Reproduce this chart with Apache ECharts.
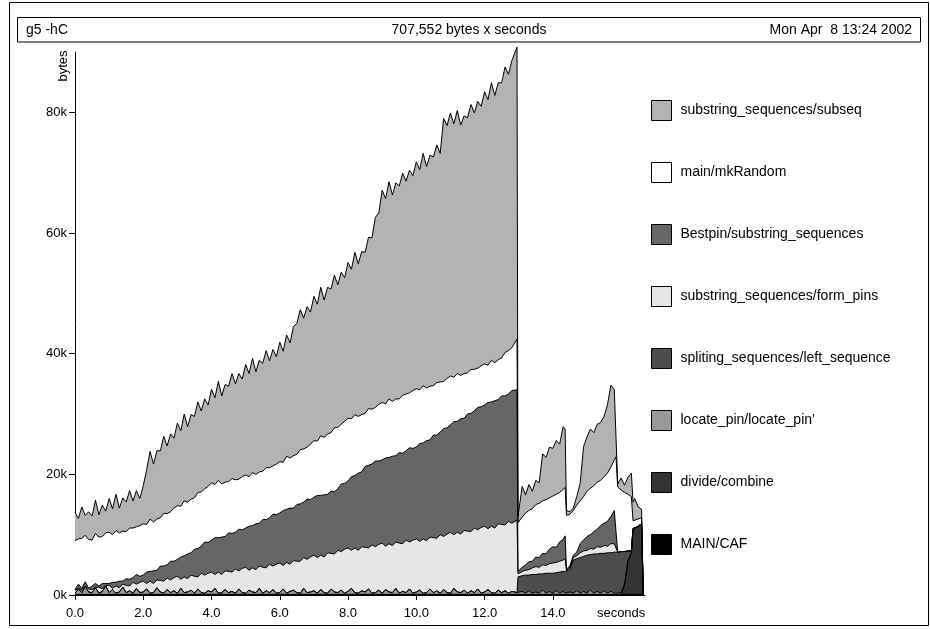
<!DOCTYPE html>
<html>
<head>
<meta charset="utf-8">
<script src="https://cdn.jsdelivr.net/npm/echarts@6/dist/echarts.min.js"></script>
<style>
html,body{margin:0;padding:0;background:#fff;}
#c{width:930px;height:629px;}
</style>
</head>
<body>
<div id="c"></div>
<script>
// sample times (seconds)
const times = [
  0.0,0.1,0.2,0.3,0.4,0.5,0.6,0.7,0.8,0.9,
  1.0,1.1,1.2,1.3,1.4,1.5,1.6,1.7,1.8,1.9,
  2.0,2.1,2.2,2.3,2.4,2.5,2.6,2.7,2.8,2.9,
  3.0,3.1,3.2,3.3,3.4,3.5,3.6,3.7,3.8,3.9,
  4.0,4.1,4.2,4.3,4.4,4.5,4.6,4.7,4.8,4.9,
  5.0,5.1,5.2,5.3,5.4,5.5,5.6,5.7,5.8,5.9,
  6.0,6.1,6.2,6.3,6.4,6.5,6.6,6.7,6.8,6.9,
  7.0,7.1,7.2,7.3,7.4,7.5,7.6,7.7,7.8,7.9,
  8.0,8.1,8.2,8.3,8.4,8.5,8.6,8.7,8.8,8.9,
  9.0,9.1,9.2,9.3,9.4,9.5,9.6,9.7,9.8,9.9,
  10.0,10.1,10.2,10.3,10.4,10.5,10.6,10.7,10.8,10.9,
  11.0,11.1,11.2,11.3,11.4,11.5,11.6,11.7,11.8,11.9,
  12.0,12.1,12.2,12.3,12.4,12.5,12.6,12.7,12.8,12.95,
  12.98,13.1,13.2,13.3,13.4,13.5,13.6,13.7,13.8,13.9,
  14.0,14.1,14.2,14.3,14.36,14.4,14.5,14.6,14.7,14.8,
  14.9,15.0,15.1,15.2,15.3,15.4,15.5,15.6,15.7,15.8,
  15.85,15.9,16.0,16.1,16.2,16.3,16.35,16.4,16.5,16.6,
  16.65
];

// band sizes in kbytes, bottom of the stack first
const mainCaf = [
  0.1,0.1,0.1,0.1,0.1,0.1,0.1,0.1,0.1,0.1,
  0.1,0.1,0.1,0.1,0.1,0.1,0.1,0.1,0.1,0.1,
  0.1,0.1,0.1,0.1,0.1,0.1,0.1,0.1,0.1,0.1,
  0.1,0.1,0.1,0.1,0.1,0.1,0.1,0.1,0.1,0.1,
  0.1,0.1,0.1,0.1,0.1,0.1,0.1,0.1,0.1,0.1,
  0.1,0.1,0.1,0.1,0.1,0.1,0.1,0.1,0.1,0.1,
  0.1,0.1,0.1,0.1,0.1,0.1,0.1,0.1,0.1,0.1,
  0.1,0.1,0.1,0.1,0.1,0.1,0.1,0.1,0.1,0.1,
  0.1,0.1,0.1,0.1,0.1,0.1,0.1,0.1,0.1,0.1,
  0.1,0.1,0.1,0.1,0.1,0.1,0.1,0.1,0.1,0.1,
  0.1,0.1,0.1,0.1,0.1,0.1,0.1,0.1,0.1,0.1,
  0.1,0.1,0.1,0.1,0.1,0.1,0.1,0.1,0.1,0.1,
  0.1,0.1,0.1,0.1,0.1,0.1,0.1,0.1,0.1,0.1,
  0.1,0.1,0.1,0.1,0.1,0.1,0.1,0.1,0.1,0.1,
  0.1,0.1,0.1,0.1,0.1,0.1,0.1,0.1,0.1,0.1,
  0.1,0.1,0.1,0.1,0.1,0.1,0.1,0.1,0.1,0.1,
  0.1,0.1,0.1,0.1,0.1,0.1,0.1,0.1,0.1,0.1,
  0
];
const divideCombine = [
  0,0,0,0,0,0,0,0,0,0,
  0,0,0,0,0,0,0,0,0,0,
  0,0,0,0,0,0,0,0,0,0,
  0,0,0,0,0,0,0,0,0,0,
  0,0,0,0,0,0,0,0,0,0,
  0,0,0,0,0,0,0,0,0,0,
  0,0,0,0,0,0,0,0,0,0,
  0,0,0,0,0,0,0,0,0,0,
  0,0,0,0,0,0,0,0,0,0,
  0,0,0,0,0,0,0,0,0,0,
  0,0,0,0,0,0,0,0,0,0,
  0,0,0,0,0,0,0,0,0,0,
  0,0,0,0,0,0,0,0,0,0,
  0,0,0,0,0,0,0,0,0,0,
  0,0,0,0,0,0,0,0,0,0,
  0,0,0,0,0,0,0,0,0,0,
  0,0,0,1.5,5.5,6.8,10.9,11.1,11.3,11.7,
  0
];
const locatePin = [
  0.2,0.9,0.3,1.3,0.4,0.3,1.1,0.2,0.5,1.4,
  0.3,0.8,0.2,0.4,1.2,0.3,0.6,0.2,1.0,0.3,
  0.4,0.9,0.2,0.3,1.1,0.4,0.2,0.8,0.3,0.6,
  0.2,1.0,0.3,0.4,0.7,0.2,0.9,0.3,0.2,0.6,
  0.4,1.0,0.2,0.3,0.8,0.3,0.5,0.2,0.9,0.3,
  0.2,0.7,0.4,0.3,1.0,0.2,0.6,0.3,0.8,0.2,
  0.3,0.9,0.2,0.5,0.7,0.3,0.2,1.0,0.3,0.4,
  0.6,0.2,0.8,0.3,0.2,0.9,0.4,0.3,0.7,0.2,
  0.5,1.0,0.3,0.2,0.6,0.4,0.9,0.2,0.3,0.7,
  0.2,0.8,0.4,0.3,1.0,0.2,0.5,0.3,0.9,0.2,
  0.4,0.7,0.2,0.3,0.9,0.3,0.6,0.2,0.8,0.3,
  0.2,1.0,0.4,0.3,0.7,0.2,0.6,0.3,0.9,0.2,
  0.4,0.8,0.3,0.2,0.7,0.3,0.6,0.2,0.5,0.3,
  0.2,0.5,0.2,0.6,0.2,0.4,0.2,0.7,0.2,0.5,
  0.2,0.6,0.2,0.5,0.2,0.2,0.4,0.2,0.6,0.2,
  0.5,0.2,0.7,0.2,0.5,0.2,0.6,0.2,0.5,0.2,
  0.4,0.2,0.3,0.2,0.1,0.1,0,0,0,0,
  0
];
const leftSequence = [
  0,0,0,0,0,0,0,0,0,0,
  0,0,0,0,0,0,0,0,0,0,
  0,0,0,0,0,0,0,0,0,0,
  0,0,0,0,0,0,0,0,0,0,
  0,0,0,0,0,0,0,0,0,0,
  0,0,0,0,0,0,0,0,0,0,
  0,0,0,0,0,0,0,0,0,0,
  0,0,0,0,0,0,0,0,0,0,
  0,0,0,0,0,0,0,0,0,0,
  0,0,0,0,0,0,0,0,0,0,
  0,0,0,0,0,0,0,0,0,0,
  0,0,0,0,0,0,0,0,0,0,
  0,0,0,0,0,0,0,0,0,0,
  2.7,2.6,3.0,2.6,3.1,2.9,3.2,2.7,3.3,3.0,
  3.3,3.0,3.5,3.3,3.6,3.6,3.7,5.5,5.3,5.9,
  5.8,6.3,5.9,6.5,6.2,6.6,6.2,6.7,6.4,6.8,
  6.6,6.8,6.8,5.4,1.6,0.3,0,0,0,0,
  0
];
const formPins = [
  0.5,0.1,0.4,0.1,0.5,0.5,0.1,1.0,0.4,0.1,
  1.2,0.2,1.2,0.7,0.5,1.2,0.8,1.8,0.7,1.7,
  1.8,0.9,2.0,1.5,1.3,1.9,2.0,1.9,2.1,2.2,
  2.8,1.5,2.6,2.2,2.5,2.8,2.0,3.2,3.0,2.9,
  3.3,2.3,3.5,3.0,3.1,3.5,3.2,4.0,3.0,4.0,
  4.3,3.3,4.0,3.8,3.7,4.3,3.8,4.7,3.9,4.8,
  4.9,3.9,5.1,4.5,4.9,5.2,5.3,5.1,5.5,5.8,
  5.9,5.9,5.7,5.9,6.7,5.9,6.3,7.0,6.4,7.3,
  7.2,6.3,7.4,7.1,7.3,7.4,6.8,8.0,7.6,7.6,
  8.3,7.2,8.0,7.8,7.7,8.3,7.9,8.7,7.8,8.8,
  8.8,8.1,9.0,8.6,8.6,9.1,8.7,9.7,8.8,9.7,
  10.1,8.9,9.9,9.7,9.9,10.3,9.8,10.7,9.8,10.9,
  10.9,10.1,11.0,10.8,11.0,11.3,10.9,11.9,11.3,12.0,
  0.5,0.7,0.8,0.9,1.1,1.3,1.1,1.5,1.3,1.6,
  1.7,1.7,1.8,1.9,2.1,0.2,0.3,0.4,0.5,0.8,
  0.9,0.8,1.0,0.8,1.2,1.0,1.3,1.1,1.5,1.4,
  1.5,0,0,0,0,0,0,0,0,0,
  0
];
const bestpin = [
  0.1,0.7,0.3,0.7,0.1,0.6,0.6,0.2,0.9,0.3,
  0.3,1.0,0.6,1.1,0.5,1.1,1.1,0.8,1.6,1.0,
  1.0,1.9,1.6,2.1,1.6,2.4,2.5,2.2,3.1,2.7,
  2.8,3.7,3.5,4.1,3.7,4.5,4.7,4.5,5.5,5.1,
  5.3,6.1,5.7,6.2,5.7,6.4,6.4,6.1,6.9,6.4,
  6.5,7.3,7.0,7.6,7.1,7.9,8.0,7.7,8.6,8.2,
  8.3,9.1,8.8,9.3,8.7,9.4,9.5,9.2,10.0,9.5,
  9.6,10.3,9.9,10.3,9.7,10.3,10.3,10.2,11.2,10.9,
  11.1,12.2,12.0,12.8,12.4,13.4,13.7,13.4,14.2,13.8,
  13.8,14.6,14.3,14.8,14.3,15.0,15.0,14.8,15.6,15.2,
  15.2,16.2,15.9,16.6,16.1,17.0,17.1,17.0,17.9,17.6,
  17.8,18.7,18.4,19.1,18.6,19.4,19.6,19.4,20.3,20.0,
  20.1,20.9,20.6,21.1,20.6,21.3,21.4,21.1,22.0,21.6,
  0.4,0.7,0.9,1.3,1.1,1.6,1.6,1.9,1.9,2.4,
  2.7,2.5,3.2,3.4,3.8,0.2,0.3,0.4,0.6,1.5,
  1.8,2.3,2.3,2.9,2.9,3.6,3.7,4.1,4.5,5.5,
  5.7,0,0,0,0,0,0,0,0,0,
  0
];
const mkRandom = [
  8.1,7.5,8.3,7.7,8.1,7.6,8.3,8.1,7.8,8.4,
  8.5,7.9,8.6,8.0,8.3,7.8,8.5,8.2,7.9,8.4,
  8.5,7.9,8.7,8.1,8.5,8.0,8.7,8.5,8.2,8.8,
  8.9,8.4,9.1,8.6,8.9,8.5,9.3,9.0,8.8,9.3,
  9.5,8.8,9.5,8.8,9.0,8.5,9.1,8.7,8.3,8.8,
  8.8,8.2,8.8,8.2,8.5,8.0,8.6,8.3,8.0,8.4,
  8.5,8.0,8.8,8.3,8.7,8.3,9.0,8.8,8.6,9.2,
  9.4,9.0,9.9,9.5,10.0,9.7,10.6,10.2,9.9,10.3,
  10.4,9.6,10.1,9.4,9.5,8.8,9.4,9.1,8.9,9.4,
  9.5,9.0,9.7,9.1,9.4,8.9,9.6,9.4,9.1,9.6,
  9.7,8.9,9.5,8.7,8.9,8.2,8.7,8.3,7.8,8.2,
  8.1,7.4,7.9,7.2,7.4,6.8,7.3,6.9,6.5,6.8,
  6.8,6.2,6.9,6.3,6.6,6.3,7.2,7.2,7.1,8.4,
  8.1,8.3,8.6,8.5,8.7,8.7,9.0,8.7,9.0,8.5,
  8.4,8.8,8.2,8.3,8.0,8.9,8.6,7.4,7.8,7.1,
  7.2,7.5,7.7,7.6,7.8,7.5,7.7,8.0,8.2,8.4,
  8.6,10.8,10.2,9.8,9.4,9.0,1.3,1.2,1.2,1.0,
  0
];
const subseq = [
  4.7,3.4,5.2,3.3,4.6,4.0,5.5,3.7,5.2,3.6,
  5.6,4.3,6.0,4.1,5.5,4.9,6.2,4.5,6.0,4.5,
  6.3,9.1,11.2,9.6,11.3,11.1,12.8,11.2,12.9,11.6,
  13.7,12.5,14.4,12.5,14.0,13.5,15.0,13.4,14.9,13.5,
  15.5,14.4,16.4,14.6,16.2,15.8,17.4,15.9,17.5,16.2,
  18.3,17.1,18.9,17.0,18.5,17.9,19.4,17.7,19.3,17.8,
  19.8,18.4,20.1,19.1,21.4,21.7,23.2,21.7,23.3,21.9,
  23.9,22.7,24.6,22.8,24.3,23.8,25.3,23.6,25.2,23.8,
  25.8,24.8,26.9,25.3,27.0,26.7,28.4,28.4,31.5,31.7,
  35.2,34.0,36.0,34.2,35.8,35.3,36.8,35.3,36.9,35.6,
  37.6,36.5,38.5,36.7,38.3,37.9,39.4,37.9,43.6,41.9,
  43.6,42.0,43.6,41.5,42.7,42.3,43.9,42.5,44.2,43.0,
  45.1,44.0,46.0,44.3,45.9,45.6,47.3,45.8,47.6,48.4,
  1.0,5.1,3.0,4.3,2.9,4.0,3.4,7.8,7.0,8.4,
  7.9,8.9,8.0,10.4,9.7,0.8,0.4,0.4,1.4,2.9,
  8.3,9.0,9.8,8.8,9.6,9.6,10.0,11.3,13.6,11.6,
  10.9,0.5,2.0,1.2,2.8,3.9,3.1,3.6,2.0,1.4,
  0
];

// legend order: top of stack first
const seriesNames = [
  'substring_sequences/subseq',
  'main/mkRandom',
  'Bestpin/substring_sequences',
  'substring_sequences/form_pins',
  'spliting_sequences/left_sequence',
  'locate_pin/locate_pin\u2019',
  'divide/combine',
  'MAIN/CAF'
];
const seriesColors = ['#b3b3b3','#ffffff','#666666','#e6e6e6','#4d4d4d','#999999','#333333','#000000'];
const xTickValues = [0,2,4,6,8,10,12,14];
const xLabelValues = [0,2,4,6,8,10,12,14,16];
const yTickValues = [0,20,40,60,80];

const FONT = 'Liberation Sans, Arial, Helvetica, sans-serif';

// bottom-to-top bands
const bands = [mainCaf, divideCombine, locatePin, leftSequence, formPins, bestpin, mkRandom, subseq];
const cum = [];
let run = times.map(() => 0);
bands.forEach(b => {
  run = run.map((v, i) => v + b[i]);
  cum.push(run.slice());
});
// cumulative tops in legend order (top first)
const tops = cum.slice().reverse();

const series = seriesNames.map((name, k) => ({
  name: name,
  type: 'line',
  data: times.map((t, i) => [t, +tops[k][i].toFixed(2)]),
  showSymbol: false,
  symbol: 'none',
  clip: false,
  animation: false,
  lineStyle: { color: '#000', width: 1 },
  areaStyle: { color: seriesColors[k], opacity: 1 },
  itemStyle: { color: seriesColors[k], borderColor: '#000', borderWidth: 1 },
  emphasis: { disabled: true },
  z: 2
}));

const chart = echarts.init(document.getElementById('c'), null, { renderer: 'canvas' });
chart.setOption({
  animation: false,
  backgroundColor: '#fff',
  grid: { left: 75, top: 52, width: 570, height: 543, containLabel: false },
  xAxis: {
    type: 'value', min: 0, max: 16.7,
    axisLine: { show: true, onZero: false, lineStyle: { color: '#000', width: 1 } },
    axisTick: { show: true, length: 5, inside: false, customValues: xTickValues, lineStyle: { color: '#000', width: 1 } },
    axisLabel: {
      customValues: xLabelValues,
      formatter: v => (v >= 16 ? 'seconds' : v.toFixed(1)),
      fontFamily: FONT, fontSize: 13, color: '#000', margin: 12
    },
    splitLine: { show: false }
  },
  yAxis: {
    type: 'value', min: 0, max: 90,
    axisLine: { show: true, lineStyle: { color: '#000', width: 1 } },
    axisTick: { show: true, length: 6, customValues: yTickValues, lineStyle: { color: '#000', width: 1 } },
    axisLabel: {
      customValues: yTickValues,
      formatter: v => v + 'k',
      fontFamily: FONT, fontSize: 13, color: '#000', margin: 8
    },
    splitLine: { show: false }
  },
  legend: {
    orient: 'vertical', left: 646, top: 95,
    itemWidth: 20, itemHeight: 20, itemGap: 41,
    selectedMode: false,
    textStyle: { fontFamily: FONT, fontSize: 14, color: '#000', padding: [0, 0, 0, 4] },
    data: seriesNames.map((n, k) => ({
      name: n, icon: 'rect',
      itemStyle: { color: seriesColors[k], borderColor: '#000', borderWidth: 1 }
    }))
  },
  graphic: [
    { type: 'rect', shape: { x: 9.5, y: 2.5, width: 919, height: 623 }, style: { fill: 'none', stroke: '#000', lineWidth: 1 }, silent: true },
    { type: 'rect', shape: { x: 17.5, y: 17.5, width: 903, height: 24.5 }, style: { fill: 'none', stroke: '#000', lineWidth: 1 }, silent: true },
    { type: 'text', x: 26, y: 30, style: { text: 'g5 -hC', fontFamily: FONT, fontSize: 14, fill: '#000', textAlign: 'left', textVerticalAlign: 'middle', align: 'left', verticalAlign: 'middle' }, silent: true },
    { type: 'text', x: 469, y: 30, style: { text: '707,552 bytes x seconds', fontFamily: FONT, fontSize: 14, fill: '#000', textAlign: 'center', textVerticalAlign: 'middle', align: 'center', verticalAlign: 'middle' }, silent: true },
    { type: 'text', x: 912, y: 30, style: { text: 'Mon Apr  8 13:24 2002', fontFamily: FONT, fontSize: 14, fill: '#000', textAlign: 'right', textVerticalAlign: 'middle', align: 'right', verticalAlign: 'middle' }, silent: true },
    { type: 'text', x: 63.5, y: 66, rotation: Math.PI / 2, style: { text: 'bytes', fontFamily: FONT, fontSize: 13, fill: '#000', textAlign: 'center', textVerticalAlign: 'middle', align: 'center', verticalAlign: 'middle' }, silent: true }
  ],
  series: series
});
</script>
</body>
</html>
